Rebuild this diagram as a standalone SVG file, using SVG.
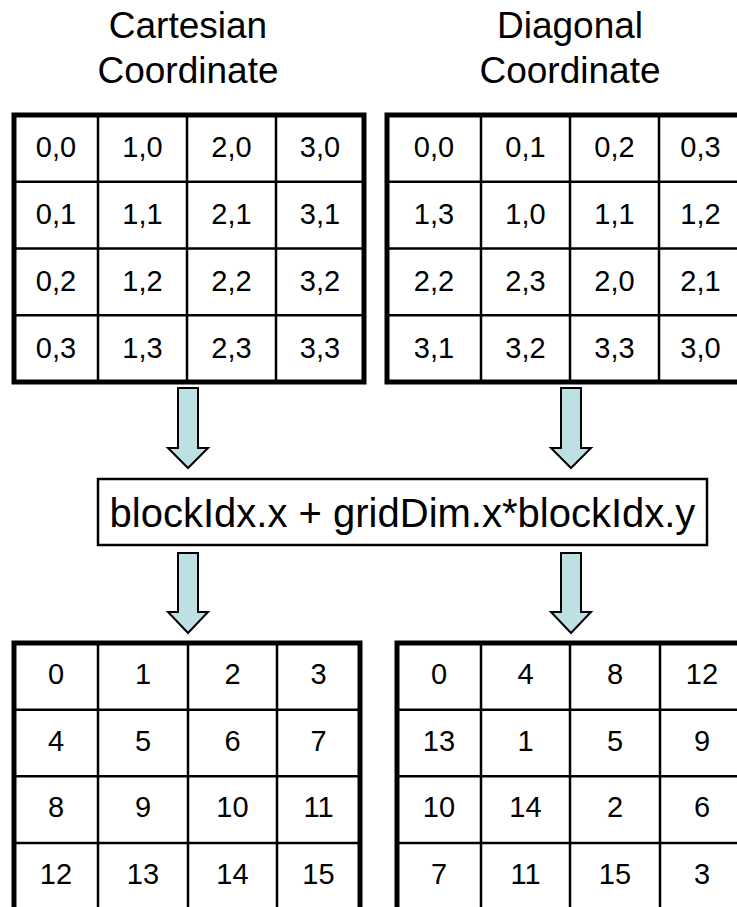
<svg xmlns="http://www.w3.org/2000/svg" width="737" height="907" viewBox="0 0 737 907">
<style>
.frame{fill:#fff;stroke:#000;stroke-width:5}
.inner{stroke:#000;stroke-width:2.5;fill:none}
.cell{font-family:"Liberation Sans",Arial,sans-serif;font-size:29px;text-anchor:middle;fill:#000}
.title{font-family:"Liberation Sans",Arial,sans-serif;font-size:37px;text-anchor:middle;fill:#000}
.expr{font-family:"Liberation Sans",Arial,sans-serif;font-size:40px;text-anchor:middle;fill:#000}
.arrow{fill:#BCE0E3;stroke:#000;stroke-width:2}
</style>
<rect width="737" height="907" fill="#fff"/>
<g id="title-cartesian">
<text class="title" x="188" y="38">Cartesian</text>
<text class="title" x="188" y="83">Coordinate</text>
</g>
<g id="title-diagonal">
<text class="title" x="570" y="38">Diagonal</text>
<text class="title" x="570" y="83">Coordinate</text>
</g>
<g id="grid-cartesian">
<rect class="frame" x="14" y="115" width="350" height="267"/>
<path class="inner" d="M98,115V382M187,115V382M276,115V382M14,181.75H364M14,248.5H364M14,315.25H364"/>
<text class="cell" x="56" y="157.4">0,0</text><text class="cell" x="142.5" y="157.4">1,0</text><text class="cell" x="231.5" y="157.4">2,0</text><text class="cell" x="320" y="157.4">3,0</text>
<text class="cell" x="56" y="224.1">0,1</text><text class="cell" x="142.5" y="224.1">1,1</text><text class="cell" x="231.5" y="224.1">2,1</text><text class="cell" x="320" y="224.1">3,1</text>
<text class="cell" x="56" y="290.9">0,2</text><text class="cell" x="142.5" y="290.9">1,2</text><text class="cell" x="231.5" y="290.9">2,2</text><text class="cell" x="320" y="290.9">3,2</text>
<text class="cell" x="56" y="357.6">0,3</text><text class="cell" x="142.5" y="357.6">1,3</text><text class="cell" x="231.5" y="357.6">2,3</text><text class="cell" x="320" y="357.6">3,3</text>
</g>
<g id="grid-diagonal">
<rect class="frame" x="387" y="115" width="355" height="267"/>
<path class="inner" d="M481,115V382M570,115V382M659,115V382M387,181.75H742M387,248.5H742M387,315.25H742"/>
<text class="cell" x="434" y="157.4">0,0</text><text class="cell" x="525.5" y="157.4">0,1</text><text class="cell" x="614.5" y="157.4">0,2</text><text class="cell" x="700.5" y="157.4">0,3</text>
<text class="cell" x="434" y="224.1">1,3</text><text class="cell" x="525.5" y="224.1">1,0</text><text class="cell" x="614.5" y="224.1">1,1</text><text class="cell" x="700.5" y="224.1">1,2</text>
<text class="cell" x="434" y="290.9">2,2</text><text class="cell" x="525.5" y="290.9">2,3</text><text class="cell" x="614.5" y="290.9">2,0</text><text class="cell" x="700.5" y="290.9">2,1</text>
<text class="cell" x="434" y="357.6">3,1</text><text class="cell" x="525.5" y="357.6">3,2</text><text class="cell" x="614.5" y="357.6">3,3</text><text class="cell" x="700.5" y="357.6">3,0</text>
</g>
<g id="formula">
<rect x="98" y="479" width="609" height="66" fill="#fff" stroke="#000" stroke-width="2.5"/>
<text class="expr" x="402.5" y="526.5">blockIdx.x + gridDim.x*blockIdx.y</text>
</g>
<g id="grid-cartesian-index">
<rect class="frame" x="14" y="643" width="346" height="266.7"/>
<path class="inner" d="M98,643V910M188,643V910M277,643V910M14,709.7H360M14,776.3H360M14,843H360"/>
<text class="cell" x="56" y="683.8">0</text><text class="cell" x="143" y="683.8">1</text><text class="cell" x="232.5" y="683.8">2</text><text class="cell" x="318.5" y="683.8">3</text>
<text class="cell" x="56" y="750.5">4</text><text class="cell" x="143" y="750.5">5</text><text class="cell" x="232.5" y="750.5">6</text><text class="cell" x="318.5" y="750.5">7</text>
<text class="cell" x="56" y="817.2">8</text><text class="cell" x="143" y="817.2">9</text><text class="cell" x="232.5" y="817.2">10</text><text class="cell" x="318.5" y="817.2">11</text>
<text class="cell" x="56" y="883.8">12</text><text class="cell" x="143" y="883.8">13</text><text class="cell" x="232.5" y="883.8">14</text><text class="cell" x="318.5" y="883.8">15</text>
</g>
<g id="grid-diagonal-index">
<rect class="frame" x="397" y="643" width="347" height="266.7"/>
<path class="inner" d="M481,643V910M570,643V910M660,643V910M397,709.7H744M397,776.3H744M397,843H744"/>
<text class="cell" x="439" y="683.8">0</text><text class="cell" x="525.5" y="683.8">4</text><text class="cell" x="615" y="683.8">8</text><text class="cell" x="702" y="683.8">12</text>
<text class="cell" x="439" y="750.5">13</text><text class="cell" x="525.5" y="750.5">1</text><text class="cell" x="615" y="750.5">5</text><text class="cell" x="702" y="750.5">9</text>
<text class="cell" x="439" y="817.2">10</text><text class="cell" x="525.5" y="817.2">14</text><text class="cell" x="615" y="817.2">2</text><text class="cell" x="702" y="817.2">6</text>
<text class="cell" x="439" y="883.8">7</text><text class="cell" x="525.5" y="883.8">11</text><text class="cell" x="615" y="883.8">15</text><text class="cell" x="702" y="883.8">3</text>
</g>
<g id="connectors">
<path class="arrow" d="M178,388H198V448H208L188,468L168,448H178Z"/>
<path class="arrow" d="M561,388H581V448H591L571,468L551,448H561Z"/>
<path class="arrow" d="M178,553H198V612H208L188,633L168,612H178Z"/>
<path class="arrow" d="M561,553H581V612H591L571,633L551,612H561Z"/>
</g>
</svg>
